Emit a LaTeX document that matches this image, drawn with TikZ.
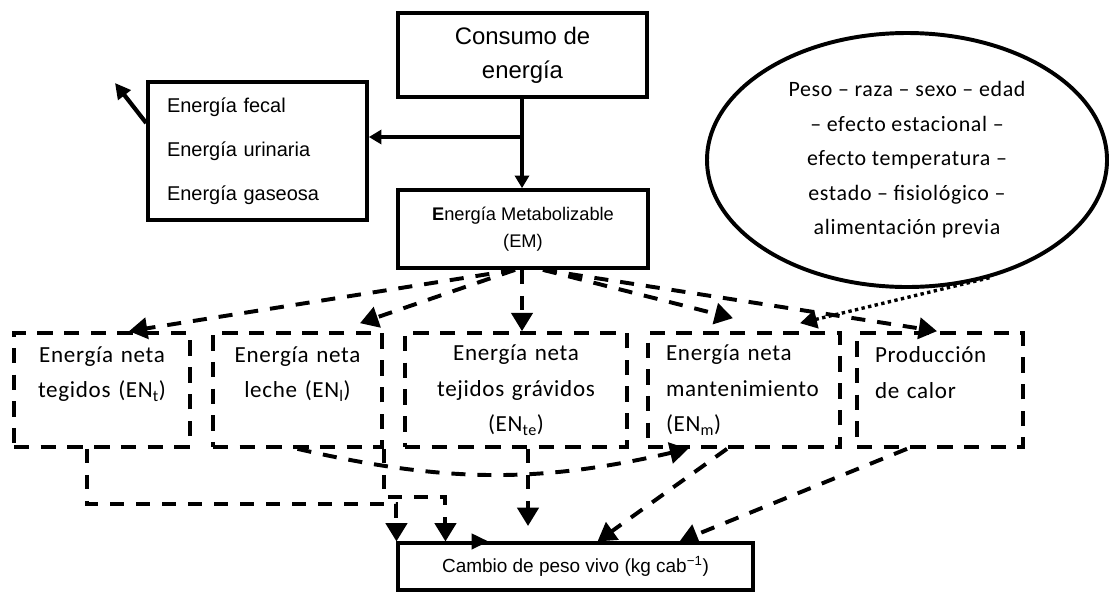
\documentclass[tikz,border=0pt]{standalone}
\usepackage{fontspec}
\setmainfont{Liberation Sans}
\newfontfamily\calibri[LetterSpace=3]{Carlito}
\usepackage{tikz}
\usetikzlibrary{shapes.geometric, arrows.meta, positioning}
\tikzstyle{caja} = [rectangle, minimum width=4cm, minimum height=2cm, align=center, draw=black, line width=2.6pt, fill=white]
\tikzstyle{cajaneta} = [rectangle, minimum height=2.85cm, inner xsep=0.45cm, draw=black, line width=2.6pt, dash pattern=on 11pt off 8pt, font=\calibri\fontsize{16.4}{25.2}\selectfont]
\tikzstyle{flecha} = [line width=3pt, -{Triangle[length=9pt, width=10pt]}]
\tikzstyle{flechaneta} = [line width=2.8pt, dash pattern=on 10pt off 8.5pt, -{Triangle[length=13pt, width=15pt]}]
\tikzstyle{flechapunto} = [line width=2.4pt, dash pattern=on 2.4pt off 2.4pt, -{Triangle[length=12pt, width=13pt]}]

\begin{document}
\begin{tikzpicture}[
  every node/.style={inner sep=2pt},
  caja/.append style={font=\fontsize{14.2}{31.3}\selectfont}
]
\useasboundingbox (0,0) rectangle (27.925,-14.8);

\node (consumo) [caja, minimum width=6.225cm, minimum height=2.1cm, font=\fontsize{17}{24}\selectfont] at (13.0625,-1.375) {Consumo de\\energía};
\node (em) [caja, minimum width=6.25cm, minimum height=1.95cm, font=\fontsize{13}{19}\selectfont] at (13.075,-5.725) {\textbf{E}nergía Metabolizable\\(EM)};
\node (perdidas) [caja, minimum width=5.475cm, minimum height=3.45cm, text width=4.525cm, inner xsep=0.475cm, align=left] at (6.4375,-3.775)
  {Energía fecal\\Energía urinaria\\Energía gaseosa};

\node (factores) [ellipse, draw=black, line width=2.8pt, minimum width=10cm, minimum height=6.35cm, align=center, font=\calibri\fontsize{15.6}{24.5}\selectfont] at (22.675,-4.0)
  {Peso – raza – sexo – edad\\– efecto estacional –\\efecto temperatura –\\estado – fisiológico –\\alimentación previa};

\node (tejidos) [cajaneta, text width=3.5cm, align=center] at (2.55,-9.75) {Energía neta\\tegidos (EN\textsubscript{t})\\~};
\node (leche) [cajaneta, text width=3.325cm, align=center] at (7.4375,-9.75) {Energía neta\\leche (EN\textsubscript{l})\\~};
\node (gravidos) [cajaneta, text width=4.65cm, align=center] at (12.9,-9.75) {Energía neta\\tejidos grávidos\\(EN\textsubscript{te})};
\node (mant) [cajaneta, text width=3.9cm, align=left] at (18.6,-9.75) {Energía neta\\mantenimiento\\(EN\textsubscript{m})};
\node (calor) [cajaneta, text width=3.25cm, align=left] at (23.5,-9.75) {Producción\\de calor\\~};

\node (cambio) [caja, minimum width=8.875cm, minimum height=1.175cm, line width=2.2pt, font=\fontsize{13.5}{16}\selectfont] at (14.3875,-14.1625)
  {Cambio de peso vivo (kg cab\textsuperscript{−1})};

\coordinate (ramal) at (13.05,-3.425);
\coordinate (fuera) at (2.875,-2.075);

\draw [flecha] (consumo.south -| ramal) -- (em.north -| ramal);
\draw [flecha] (ramal) -- (perdidas.east |- ramal);
\draw [flecha, -{Triangle[length=11pt, width=11pt]}] ([yshift=0.7cm]perdidas.west) -- (fuera);

\draw [flechaneta] ([xshift=-0.2cm]em.south) -- ([xshift=0.675cm]tejidos.north);
\draw [flechaneta] ([xshift=-0.2cm]em.south) -- ([xshift=1.5625cm, yshift=0.2cm]leche.north);
\draw [flechaneta] (em.south -| ramal) -- (gravidos.north -| ramal);
\draw [flechaneta] ([xshift=0.5cm]em.south) -- ([xshift=-0.275cm, yshift=0.325cm]mant.north);
\draw [flechaneta] ([xshift=0.5cm]em.south) -- ([xshift=-0.075cm]calor.north);
\draw [flechapunto] (factores.-55) -- ([xshift=1.4cm, yshift=0.2cm]mant.north);

\draw [flechaneta] ([xshift=-0.375cm]tejidos.south) -- ++(0,-1.375) -| (cambio.north west);
\draw [flechaneta] (leche.south east) -- ++(0,-1.2) -| ([xshift=1.225cm]cambio.north west);
\draw [flechaneta] (leche.south) to [bend right=13] ([xshift=1.05cm]mant.south west);
\draw [flechaneta, shorten >=11pt] ([xshift=0.3cm]gravidos.south) -- ([xshift=0.3cm]gravidos.south |- cambio.north);
\draw [flechaneta] ([xshift=-0.425cm]mant.south) -- ([xshift=0.55cm]cambio.north);
\draw [flechaneta] ([xshift=-0.825cm]calor.south) -- ([xshift=2.6cm]cambio.north);
\draw [flecha, line width=2pt, -{Triangle[length=12pt, width=11pt]}] ([xshift=2.0cm]cambio.north west) -- ([xshift=2.3cm]cambio.north west);

\end{tikzpicture}
\end{document}
